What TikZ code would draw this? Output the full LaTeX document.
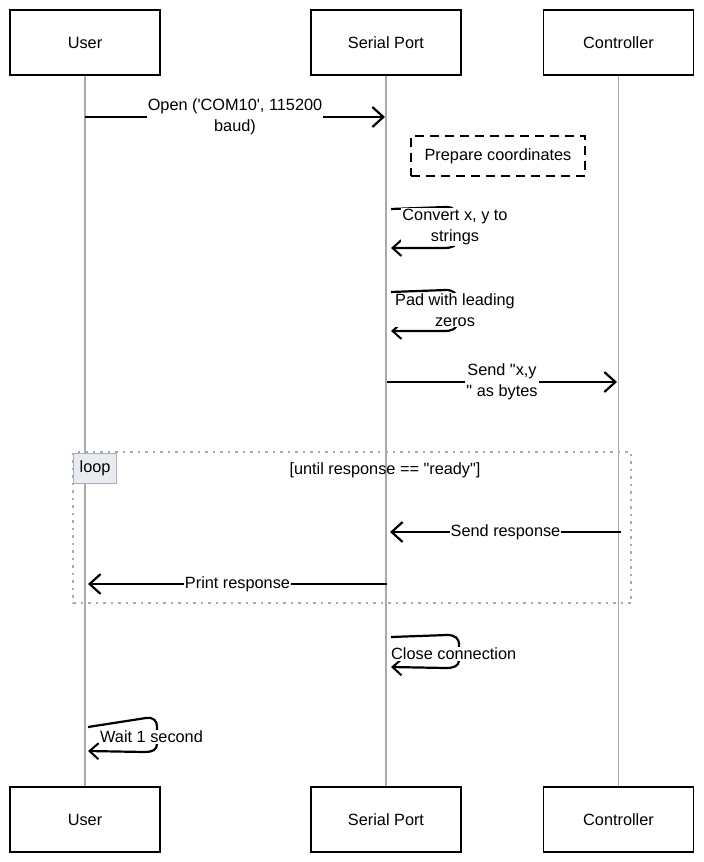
\documentclass[tikz,border=0pt]{standalone}
\usepackage{fontspec}
\setmainfont{Liberation Sans}[Ligatures=TeXOff]
\usetikzlibrary{arrows.meta}
\definecolor{lifegray}{HTML}{AAAAAA}
\definecolor{loopfill}{HTML}{E8ECF0}
\definecolor{loopdraw}{HTML}{AAB0B8}
\begin{document}
\begin{tikzpicture}[x=1pt,y=-1pt,
  txt/.style={font=\fontsize{16.3}{20.5}\selectfont},
  actor/.style={txt,draw=black,fill=white,line width=1.8pt,minimum width=150pt,minimum height=65pt,inner sep=0pt},
  life/.style={draw=lifegray,line width=1.1pt},
  msg/.style={line width=2.4pt,-{Straight Barb[length=11pt,width=20pt,line width=2.2pt]}},
  selfmsg/.style={line width=2.2pt,-{Straight Barb[length=9pt,width=16pt,line width=2pt]}},
  lbl/.style={txt,fill=white,inner sep=1pt,align=center},
  notebox/.style={txt,draw=black,fill=white,line width=1.8pt,dash pattern=on 9pt off 6pt,minimum width=174pt,minimum height=40pt,inner sep=0pt},
  loopframe/.style={draw=lifegray,line width=1.6pt,dash pattern=on 2.5pt off 5pt,minimum width=558pt,minimum height=151pt,inner sep=0pt},
  looptag/.style={txt,draw=loopdraw,fill=loopfill,line width=1.2pt,minimum width=43pt,minimum height=30pt,inner sep=0pt},
]
\useasboundingbox (0,0) rectangle (704,862);

% actors
\node[actor] (u1) at (85,42.5) {User};
\node[actor] (s1) at (386,42.5) {Serial Port};
\node[actor] (c1) at (618.5,42.5) {Controller};
\node[actor] (u2) at (85,819.5) {User};
\node[actor] (s2) at (386,819.5) {Serial Port};
\node[actor] (c2) at (618.5,819.5) {Controller};

% lifelines
\draw[life] (u1.south) -- (u2.north);
\draw[life] (s1.south) -- (s2.north);
\draw[life] (c1.south) -- (c2.north);

% Open
\coordinate (m1s) at (85,117);
\coordinate (m1e) at (385,117);
\draw[msg] (m1s) -- (m1e) node[lbl,midway] {Open ('COM10', 115200\\baud)};

% note
\node[notebox] (note) at (498,156) {Prepare coordinates};

% Convert self message
\coordinate (cv1s) at (391,209);
\coordinate (cv1e) at (391,248);
\draw[selfmsg] (cv1s) -- (446,207) .. controls (454,207) and (457,211) .. (457,217) -- (457,240) .. controls (457,246) and (452,248) .. (444,248) -- (cv1e);
\node[lbl] (cv1) at (455,227) {Convert x, y to\\strings};

% Pad self message
\coordinate (cv2s) at (391,292);
\coordinate (cv2e) at (391,331);
\draw[selfmsg] (cv2s) -- (446,290) .. controls (454,290) and (457,294) .. (457,300) -- (457,323) .. controls (457,329) and (452,331) .. (444,331) -- (cv2e);
\node[lbl] (cv2) at (455,310) {Pad with leading\\zeros};

% Send x,y
\coordinate (m2s) at (387,382);
\coordinate (m2e) at (617,382);
\draw[msg] (m2s) -- (m2e) node[lbl,midway] {Send "x,y\\" as bytes};

% loop frame
\node[loopframe] (loopbox) at (352,527.5) {};
\node[looptag,anchor=north west] (looptag) at (73,453) {loop};
\node[txt] (cond) at (385,470) {[until response == "ready"]};

% Send response
\coordinate (m3s) at (621,532);
\coordinate (m3e) at (390,532);
\draw[msg] (m3s) -- (m3e) node[lbl,midway] {Send response};

% Print response
\coordinate (m4s) at (387,584);
\coordinate (m4e) at (88,584);
\draw[msg] (m4s) -- (m4e) node[lbl,pos=0.5] {Print response};

% Close connection
\coordinate (ccs) at (391,637);
\coordinate (cce) at (391,667);
\draw[selfmsg] (ccs) -- (447,635) .. controls (455,635) and (459,638) .. (459,645) -- (459,660) .. controls (459,666) and (454,668) .. (446,668) -- (cce);
\node[lbl,anchor=west] (cc) at (390,654) {Close connection};

% Wait 1 second
\coordinate (ws) at (88,727);
\coordinate (we) at (88,751);
\draw[selfmsg] (ws) -- (146,718) .. controls (154,717) and (157,721) .. (157,727) -- (157,744) .. controls (157,750) and (152,752) .. (145,752) -- (we);
\node[lbl,anchor=west] (wt) at (99,737) {Wait 1 second};
\end{tikzpicture}
\end{document}
